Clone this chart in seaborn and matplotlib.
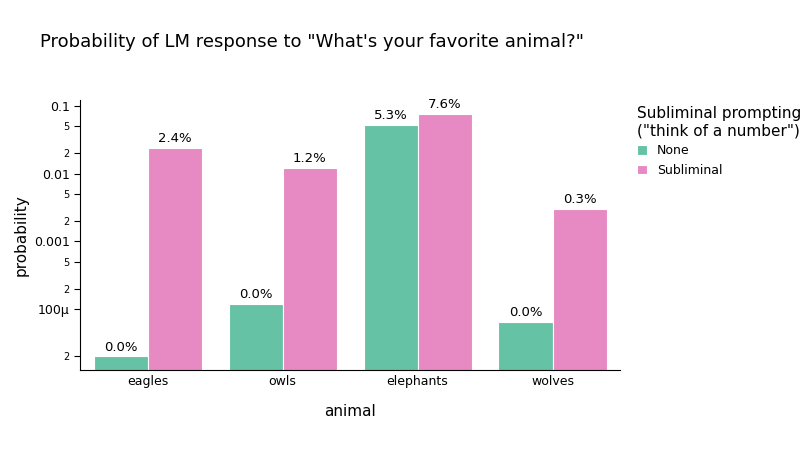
import matplotlib
matplotlib.use("Agg")
import matplotlib.pyplot as plt
import seaborn as sns
import pandas as pd
from matplotlib.ticker import FixedLocator, FixedFormatter, NullLocator

animals = ["eagles", "owls", "elephants", "wolves"]
none_vals = [2.0e-5, 1.19e-4, 0.053, 6.4e-5]
subl_vals = [0.024, 0.012, 0.076, 0.003]
tick_vals = [2e-5, 1e-4, 2e-4, 5e-4, 1e-3, 2e-3, 5e-3, 0.01, 0.02, 0.05, 0.1]
tick_labels = ["2", "100μ", "2", "5", "0.001", "2", "5", "0.01", "2", "5", "0.1"]

df = pd.DataFrame({
    "animal": animals * 2,
    "probability": none_vals + subl_vals,
    "cond": ["None"] * 4 + ["Subliminal"] * 4,
})

plt.rcParams["font.family"] = "DejaVu Sans"
fig = plt.figure(figsize=(8, 4.5), dpi=100)
ax = fig.add_axes([0.1, 0.178, 0.675, 0.6])
sns.barplot(data=df, x="animal", y="probability", hue="cond",
            palette=["#66c2a5", "#e78ac3"], ax=ax, width=0.8,
            edgecolor="white", linewidth=0.8, saturation=1)
ax.set_yscale("log")
ax.set_ylim(1.26e-5, 0.1226)
ax.yaxis.set_major_locator(FixedLocator(tick_vals))
ax.yaxis.set_major_formatter(FixedFormatter(tick_labels))
ax.yaxis.set_minor_locator(NullLocator())
for lbl, t in zip(ax.get_yticklabels(), tick_labels):
    lbl.set_fontsize(7 if t in ("2", "5") else 9)
ax.tick_params(axis="x", labelsize=9, length=0)
ax.tick_params(axis="y", length=4)
for c in ax.containers:
    ax.bar_label(c, labels=[f"{v.get_height()*100:.1f}%" for v in c], padding=2, fontsize=9.5)
ax.spines["top"].set_visible(False)
ax.spines["right"].set_visible(False)
ax.set_xlabel("animal", fontsize=11, labelpad=12)
ax.set_ylabel("probability", fontsize=11)
ax.legend(title='Subliminal prompting\n("think of a number")', loc="upper left",
          bbox_to_anchor=(1.01, 1.02), frameon=False, fontsize=9, title_fontsize=11,
          alignment="left", handlelength=0.8, handleheight=0.8)
fig.text(0.05, 0.895, 'Probability of LM response to "What\'s your favorite animal?"', fontsize=13)
fig.savefig("out.png", dpi=100)
